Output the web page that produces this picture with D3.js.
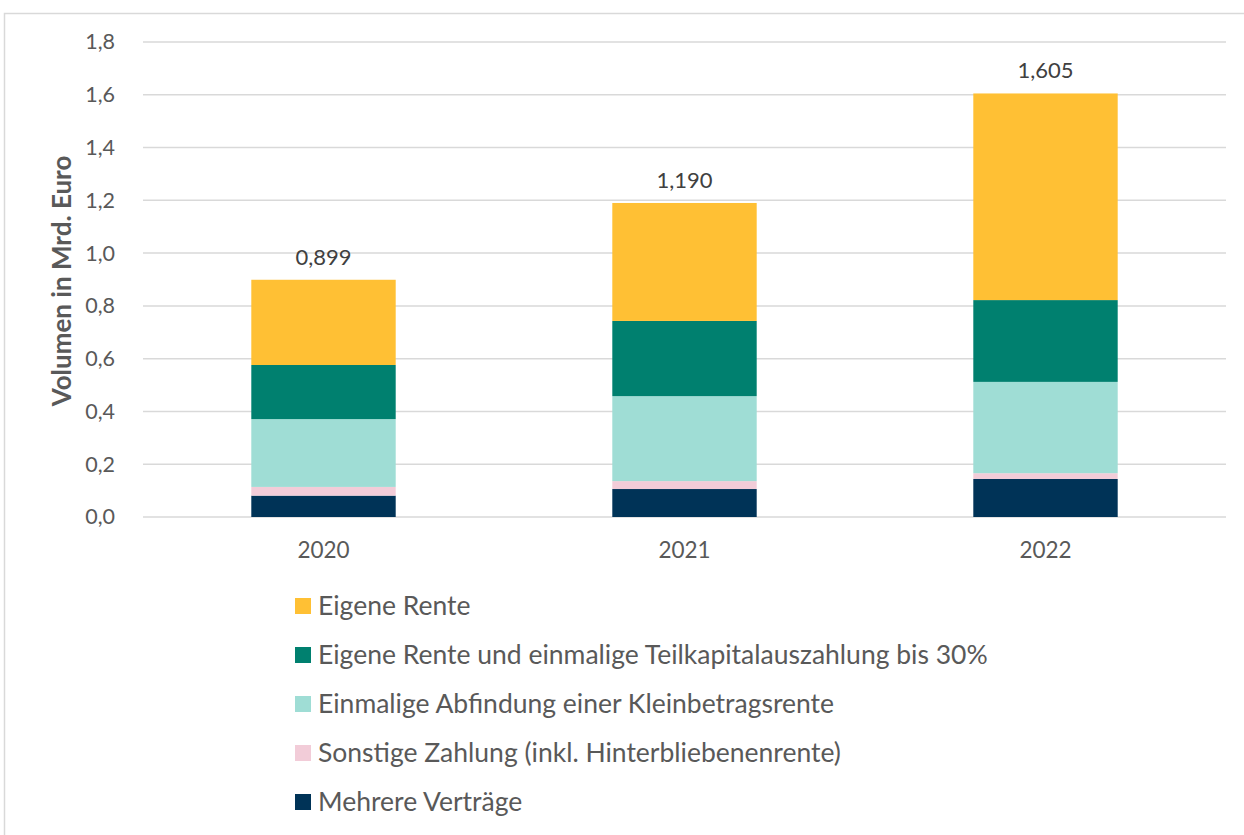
<!DOCTYPE html>
<html>
<head>
<meta charset="utf-8">
<title>Volumen in Mrd. Euro</title>
<script src="https://d3js.org/d3.v7.min.js"></script>
<style>
  body { margin: 0; background: #fff; }
  svg text { font-family: Lato, "Open Sans", sans-serif; }
</style>
</head>
<body>
<div id="chart"></div>
<script>
// data
const years = ["2020", "2021", "2022"];
const seriesNames = [
  "Mehrere Verträge",
  "Sonstige Zahlung (inkl. Hinterbliebenenrente)",
  "Einmalige Abfindung einer Kleinbetragsrente",
  "Eigene Rente und einmalige Teilkapitalauszahlung bis 30%",
  "Eigene Rente"
];
const mehrereVertraege = [0.081, 0.106, 0.144];
const sonstigeZahlung = [0.033, 0.030, 0.022];
const kleinbetragsrente = [0.257, 0.322, 0.346];
const teilkapital = [0.205, 0.285, 0.310];
const eigeneRente = [0.323, 0.447, 0.783];
const totals = [0.899, 1.190, 1.605];
const yTicks = [0, 0.2, 0.4, 0.6, 0.8, 1.0, 1.2, 1.4, 1.6, 1.8];
const colors = ["#003357", "#f2ccd8", "#9fddd5", "#00806f", "#ffc034"];

const width = 1244, height = 835;
const svg = d3.select("#chart").append("svg")
  .attr("width", width).attr("height", height);

// chart frame
svg.append("rect")
  .attr("x", 4.5).attr("y", 13.5)
  .attr("width", 1300).attr("height", 900)
  .attr("fill", "none").attr("stroke", "#d9d9d9").attr("stroke-width", 1.5);

const plotLeft = 143, plotRight = 1226, plotTop = 42, plotBottom = 517;

const x = d3.scaleBand().domain(years).range([plotLeft, plotRight])
  .paddingInner(0.6).paddingOuter(0.3);
const y = d3.scaleLinear().domain([0, 1.8]).range([plotBottom, plotTop]);

const fmt = v => d3.format(".1f")(v).replace(".", ",");

// gridlines
svg.append("g").selectAll("line").data(yTicks).join("line")
  .attr("x1", plotLeft).attr("x2", plotRight)
  .attr("y1", d => y(d)).attr("y2", d => y(d))
  .attr("stroke", "#d9d9d9").attr("stroke-width", 1.5);

// y axis labels
const yAxis = svg.append("g").attr("transform", `translate(${plotLeft},0)`)
  .call(d3.axisLeft(y).tickValues(yTicks).tickFormat(fmt).tickSize(0).tickPadding(28));
yAxis.select(".domain").remove();
yAxis.selectAll("text").attr("font-size", 21.5).attr("fill", "#595959")
  .style("font-family", "Lato, sans-serif");

svg.append("text")
  .attr("transform", "translate(71,281) rotate(-90)")
  .attr("text-anchor", "middle")
  .attr("font-size", 26).attr("font-weight", "bold").attr("fill", "#595959")
  .text("Volumen in Mrd. Euro");

// stacked bars
const rows = years.map((yr, i) => ({
  year: yr,
  s0: mehrereVertraege[i], s1: sonstigeZahlung[i], s2: kleinbetragsrente[i],
  s3: teilkapital[i], s4: eigeneRente[i]
}));
const stack = d3.stack().keys(["s0", "s1", "s2", "s3", "s4"])(rows);

svg.append("g").selectAll("g").data(stack).join("g")
  .attr("fill", (d, i) => colors[i])
  .selectAll("rect").data(d => d).join("rect")
  .attr("x", d => x(d.data.year))
  .attr("width", x.bandwidth())
  .attr("y", d => y(d[1]))
  .attr("height", d => y(d[0]) - y(d[1]));

// totals
svg.append("g").selectAll("text").data(years).join("text")
  .attr("x", d => x(d) + x.bandwidth() / 2)
  .attr("y", (d, i) => y(totals[i]) - 15)
  .attr("text-anchor", "middle")
  .attr("font-size", 22).attr("fill", "#404040")
  .text((d, i) => d3.format(".3f")(totals[i]).replace(".", ","));

// x axis labels
const xAxis = svg.append("g").attr("transform", `translate(0,${plotBottom})`)
  .call(d3.axisBottom(x).tickSize(0).tickPadding(25));
xAxis.select(".domain").remove();
xAxis.selectAll("text").attr("font-size", 22.5).attr("fill", "#595959")
  .style("font-family", "Lato, sans-serif");

// legend (top to bottom: reverse of stack order)
const legendOrder = [4, 3, 2, 1, 0];
const legend = svg.append("g").selectAll("g").data(legendOrder).join("g")
  .attr("transform", (d, i) => `translate(295,${606 + i * 49})`);
legend.append("rect")
  .attr("x", 0).attr("y", -8).attr("width", 16).attr("height", 16)
  .attr("fill", d => colors[d]);
legend.append("text")
  .attr("x", 23).attr("y", 0).attr("dy", "0.35em")
  .attr("font-size", 26.5).attr("fill", "#595959")
  .text(d => seriesNames[d]);
</script>
</body>
</html>
